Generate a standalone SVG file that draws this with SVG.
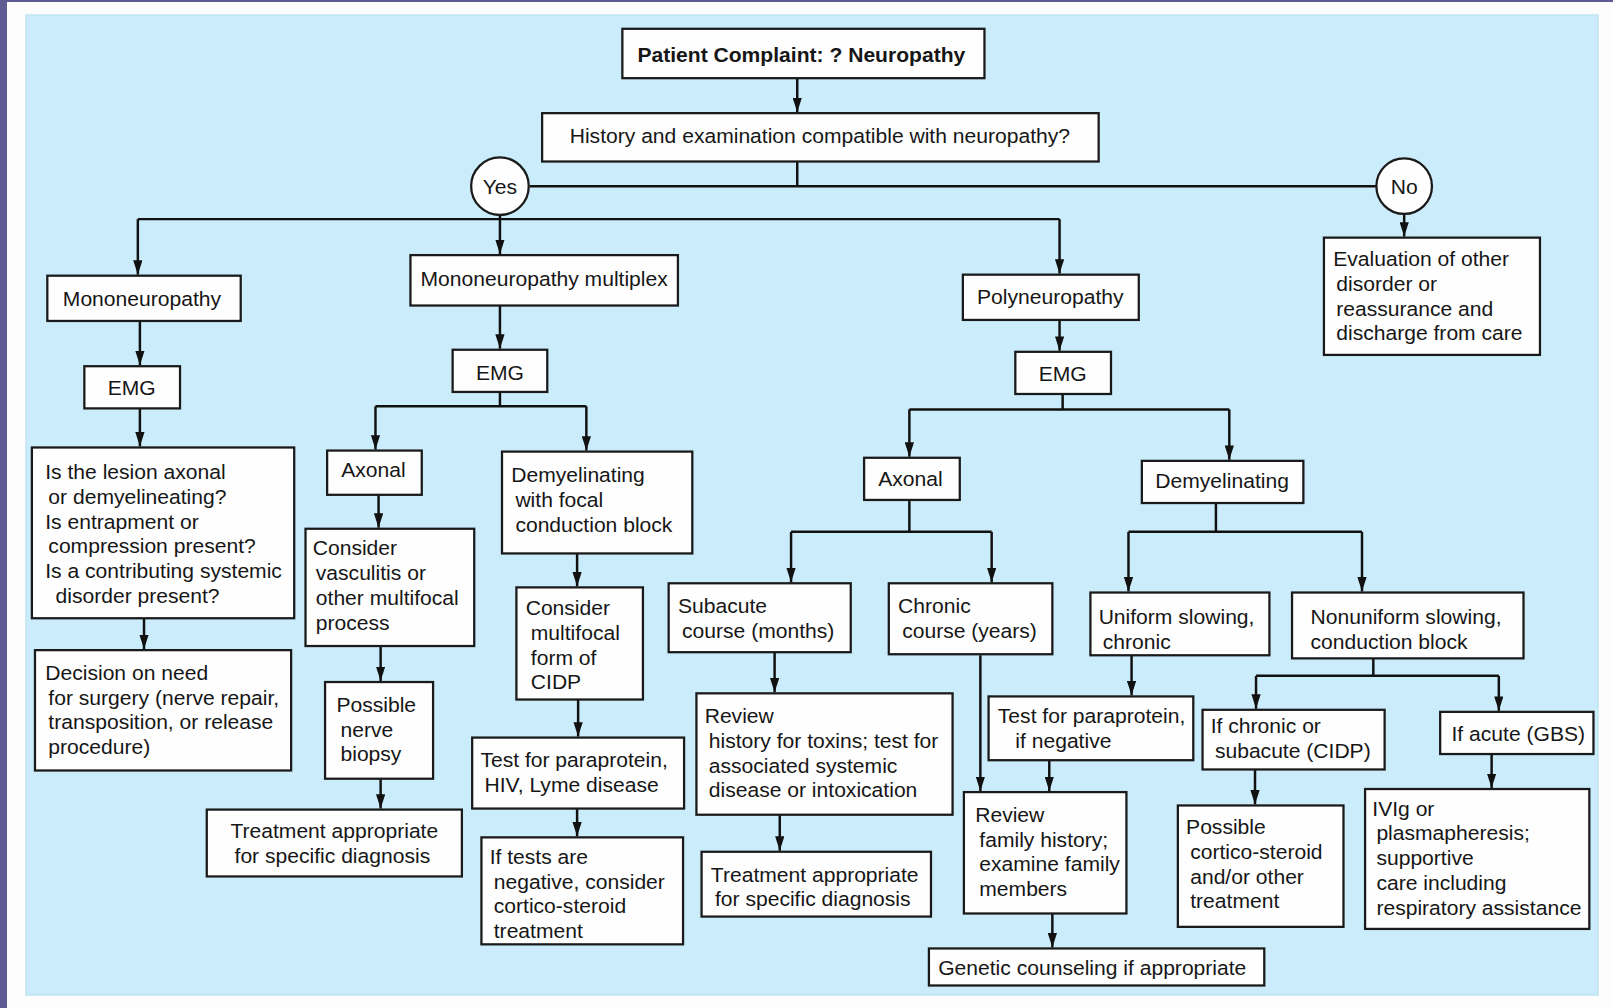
<svg xmlns="http://www.w3.org/2000/svg" width="1613" height="1008" viewBox="0 0 1613 1008">
<defs>
<marker id="ah" markerUnits="userSpaceOnUse" markerWidth="14" markerHeight="9" viewBox="0 0 14 9" refX="14" refY="4.5" orient="auto">
<path d="M0,0 L14,4.5 L0,9 Z" fill="#111"/>
</marker>
<style>
.bx{fill:#fefefe;stroke:#1a1a1a;stroke-width:2.2}
.t{font-family:"Liberation Sans",Arial,Helvetica,sans-serif;font-size:20.5px;fill:#161616}
.b{font-weight:bold}
.m{text-anchor:middle}
.c{fill:none;stroke:#111;stroke-width:2.4}
.a{marker-end:url(#ah)}
</style>
</defs>
<rect x="0" y="0" width="1613" height="1008" fill="#fdfdfd"/>
<rect x="0" y="0" width="1613" height="2" fill="#5e5b93"/>
<rect x="0" y="0" width="7" height="1008" fill="#5e5b93"/>
<rect x="26" y="15" width="1572" height="980" fill="#caecfb" stroke="#c1e4f3" stroke-width="1.5"/>
<g transform="scale(1.028699)">
<g id="connectors">
<path class="c a" d="M775,76 V109"/>
<path class="c" d="M775,157 V181"/>
<path class="c" d="M515,181 H1338"/>
<path class="c" d="M486,209 V213 M134,213 H1030"/>
<path class="c a" d="M134,213 V267"/>
<path class="c a" d="M486,213 V247"/>
<path class="c a" d="M1030,213 V266"/>
<path class="c a" d="M1365,208 V230"/>
<path class="c a" d="M136,312 V355"/>
<path class="c a" d="M136,397 V434"/>
<path class="c a" d="M140,601 V631"/>
<path class="c a" d="M486,297 V339"/>
<path class="c" d="M486,381 V395 M365,395 H570"/>
<path class="c a" d="M365,395 V437"/>
<path class="c a" d="M570,395 V438"/>
<path class="c a" d="M368,481 V513"/>
<path class="c a" d="M370,628 V662"/>
<path class="c a" d="M370,757 V786"/>
<path class="c a" d="M561,538 V570"/>
<path class="c a" d="M562,680 V716"/>
<path class="c a" d="M561,786 V813"/>
<path class="c a" d="M1030,311 V341"/>
<path class="c" d="M1033,383 V398 M884,398 H1195"/>
<path class="c a" d="M884,398 V444"/>
<path class="c a" d="M1195,398 V447"/>
<path class="c" d="M884,486 V517 M769,517 H964"/>
<path class="c a" d="M769,517 V566"/>
<path class="c a" d="M964,517 V566"/>
<path class="c a" d="M753,634 V673"/>
<path class="c a" d="M758,792 V827"/>
<path class="c a" d="M953,637 V769"/>
<path class="c" d="M1182,489 V517 M1097,517 H1324"/>
<path class="c a" d="M1097,517 V575"/>
<path class="c a" d="M1324,517 V575"/>
<path class="c a" d="M1100,637 V676"/>
<path class="c a" d="M1020,739 V769"/>
<path class="c a" d="M1023,888 V921"/>
<path class="c" d="M1335,640 V657 M1221,657 H1457"/>
<path class="c a" d="M1221,657 V689"/>
<path class="c a" d="M1457,657 V691"/>
<path class="c a" d="M1220,748 V782"/>
<path class="c a" d="M1450,733 V766"/>
</g>
<g id="n-complaint"><rect class="bx" x="605" y="28" width="352" height="48"/><text class="t b m" x="779" y="60">Patient Complaint: ? Neuropathy</text></g>
<g id="n-history"><rect class="bx" x="527" y="110" width="541" height="47"/><text class="t m" x="797" y="139">History and examination compatible with neuropathy?</text></g>
<g id="n-yes"><circle class="bx" cx="486" cy="181" r="28"/><text class="t m" x="486" y="189">Yes</text></g>
<g id="n-no"><circle class="bx" cx="1365" cy="181" r="27"/><text class="t m" x="1365" y="189">No</text></g>
<g id="n-evaluation"><rect class="bx" x="1287" y="231" width="210" height="114"/><text class="t"><tspan x="1296" y="259">Evaluation of other</tspan><tspan x="1299" y="283">disorder or</tspan><tspan x="1299" y="307">reassurance and</tspan><tspan x="1299" y="331">discharge from care</tspan></text></g>
<g id="n-mono"><rect class="bx" x="46" y="268" width="188" height="44"/><text class="t m" x="138" y="297">Mononeuropathy</text></g>
<g id="n-emg1"><rect class="bx" x="82" y="356" width="93" height="41"/><text class="t m" x="128" y="384">EMG</text></g>
<g id="n-lesion"><rect class="bx" x="31" y="435" width="255" height="166"/><text class="t"><tspan x="44" y="466">Is the lesion axonal</tspan><tspan x="47" y="490">or demyelineating?</tspan><tspan x="44" y="514">Is entrapment or</tspan><tspan x="47" y="538">compression present?</tspan><tspan x="44" y="562">Is a contributing systemic</tspan><tspan x="54" y="586">disorder present?</tspan></text></g>
<g id="n-decision"><rect class="bx" x="34" y="632" width="249" height="117"/><text class="t"><tspan x="44" y="661">Decision on need</tspan><tspan x="47" y="685">for surgery (nerve repair,</tspan><tspan x="47" y="709">transposition, or release</tspan><tspan x="47" y="733">procedure)</tspan></text></g>
<g id="n-multiplex"><rect class="bx" x="399" y="248" width="260" height="49"/><text class="t m" x="529" y="278">Mononeuropathy multiplex</text></g>
<g id="n-emg2"><rect class="bx" x="440" y="340" width="92" height="41"/><text class="t m" x="486" y="369">EMG</text></g>
<g id="n-axonal1"><rect class="bx" x="318" y="438" width="92" height="43"/><text class="t m" x="363" y="464">Axonal</text></g>
<g id="n-vasculitis"><rect class="bx" x="297" y="514" width="164" height="114"/><text class="t"><tspan x="304" y="540">Consider</tspan><tspan x="307" y="564">vasculitis or</tspan><tspan x="307" y="588">other multifocal</tspan><tspan x="307" y="612">process</tspan></text></g>
<g id="n-biopsy"><rect class="bx" x="316" y="663" width="105" height="94"/><text class="t"><tspan x="327" y="692">Possible</tspan><tspan x="331" y="716">nerve</tspan><tspan x="331" y="740">biopsy</tspan></text></g>
<g id="n-treat1"><rect class="bx" x="201" y="787" width="248" height="65"/><text class="t"><tspan x="224" y="815">Treatment appropriate</tspan><tspan x="228" y="839">for specific diagnosis</tspan></text></g>
<g id="n-demyel1"><rect class="bx" x="488" y="439" width="185" height="99"/><text class="t"><tspan x="497" y="469">Demyelinating</tspan><tspan x="501" y="493">with focal</tspan><tspan x="501" y="517">conduction block</tspan></text></g>
<g id="n-cidp1"><rect class="bx" x="502" y="571" width="123" height="109"/><text class="t"><tspan x="511" y="598">Consider</tspan><tspan x="516" y="622">multifocal</tspan><tspan x="516" y="646">form of</tspan><tspan x="516" y="670">CIDP</tspan></text></g>
<g id="n-testhiv"><rect class="bx" x="459" y="717" width="206" height="69"/><text class="t"><tspan x="467" y="746">Test for paraprotein,</tspan><tspan x="471" y="770">HIV, Lyme disease</tspan></text></g>
<g id="n-iftests"><rect class="bx" x="468" y="814" width="196" height="104"/><text class="t"><tspan x="476" y="840">If tests are</tspan><tspan x="480" y="864">negative, consider</tspan><tspan x="480" y="888">cortico-steroid</tspan><tspan x="480" y="912">treatment</tspan></text></g>
<g id="n-poly"><rect class="bx" x="936" y="267" width="171" height="44"/><text class="t m" x="1021" y="296">Polyneuropathy</text></g>
<g id="n-emg3"><rect class="bx" x="987" y="342" width="93" height="41"/><text class="t m" x="1033" y="370">EMG</text></g>
<g id="n-axonal2"><rect class="bx" x="840" y="445" width="93" height="41"/><text class="t m" x="885" y="472">Axonal</text></g>
<g id="n-subacute"><rect class="bx" x="650" y="567" width="177" height="67"/><text class="t"><tspan x="659" y="596">Subacute</tspan><tspan x="663" y="620">course (months)</tspan></text></g>
<g id="n-chronic"><rect class="bx" x="864" y="567" width="159" height="69"/><text class="t"><tspan x="873" y="596">Chronic</tspan><tspan x="877" y="620">course (years)</tspan></text></g>
<g id="n-toxins"><rect class="bx" x="677" y="674" width="249" height="118"/><text class="t"><tspan x="685" y="703">Review</tspan><tspan x="689" y="727">history for toxins; test for</tspan><tspan x="689" y="751">associated systemic</tspan><tspan x="689" y="775">disease or intoxication</tspan></text></g>
<g id="n-treat2"><rect class="bx" x="682" y="828" width="223" height="63"/><text class="t"><tspan x="691" y="857">Treatment appropriate</tspan><tspan x="695" y="881">for specific diagnosis</tspan></text></g>
<g id="n-demyel2"><rect class="bx" x="1110" y="448" width="157" height="41"/><text class="t m" x="1188" y="474">Demyelinating</text></g>
<g id="n-uniform"><rect class="bx" x="1060" y="576" width="174" height="61"/><text class="t"><tspan x="1068" y="607">Uniform slowing,</tspan><tspan x="1072" y="631">chronic</tspan></text></g>
<g id="n-nonuniform"><rect class="bx" x="1256" y="576" width="225" height="64"/><text class="t"><tspan x="1274" y="607">Nonuniform slowing,</tspan><tspan x="1274" y="631">conduction block</tspan></text></g>
<g id="n-testpara"><rect class="bx" x="961" y="677" width="199" height="62"/><text class="t"><tspan x="970" y="703">Test for paraprotein,</tspan><tspan x="987" y="727">if negative</tspan></text></g>
<g id="n-family"><rect class="bx" x="937" y="770" width="158" height="118"/><text class="t"><tspan x="948" y="799">Review</tspan><tspan x="952" y="823">family history;</tspan><tspan x="952" y="847">examine family</tspan><tspan x="952" y="871">members</tspan></text></g>
<g id="n-genetic"><rect class="bx" x="903" y="922" width="326" height="36"/><text class="t"><tspan x="912" y="948">Genetic counseling if appropriate</tspan></text></g>
<g id="n-ifchronic"><rect class="bx" x="1169" y="690" width="177" height="58"/><text class="t"><tspan x="1177" y="713">If chronic or</tspan><tspan x="1181" y="737">subacute (CIDP)</tspan></text></g>
<g id="n-ifacute"><rect class="bx" x="1400" y="692" width="149" height="41"/><text class="t"><tspan x="1411" y="720">If acute (GBS)</tspan></text></g>
<g id="n-steroid"><rect class="bx" x="1145" y="783" width="161" height="118"/><text class="t"><tspan x="1153" y="811">Possible</tspan><tspan x="1157" y="835">cortico-steroid</tspan><tspan x="1157" y="859">and/or other</tspan><tspan x="1157" y="883">treatment</tspan></text></g>
<g id="n-ivig"><rect class="bx" x="1327" y="767" width="218" height="136"/><text class="t"><tspan x="1334" y="793">IVIg or</tspan><tspan x="1338" y="817">plasmapheresis;</tspan><tspan x="1338" y="841">supportive</tspan><tspan x="1338" y="865">care including</tspan><tspan x="1338" y="889">respiratory assistance</tspan></text></g>
</g>
</svg>
